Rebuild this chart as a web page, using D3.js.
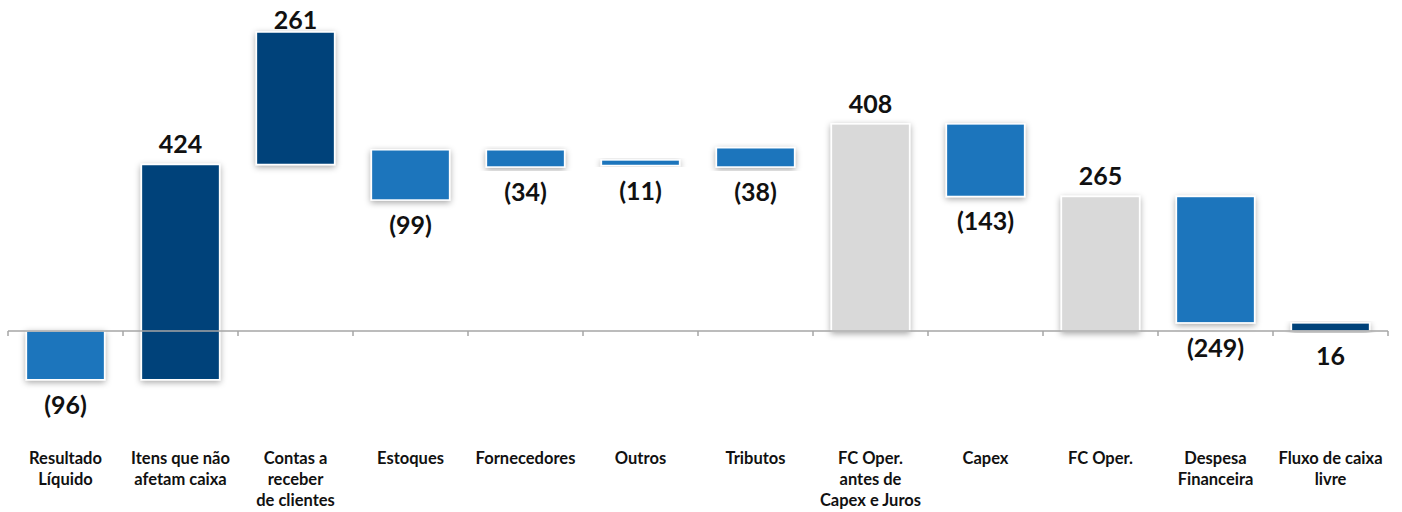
<!DOCTYPE html>
<html lang="pt">
<head>
<meta charset="utf-8">
<title>Fluxo de caixa livre</title>
<script src="https://d3js.org/d3.v7.min.js"></script>
<style>
    body { margin: 0; background: #fff; }
    svg { display: block; font-family: Lato, "Open Sans", sans-serif; }
    .axis path, .axis line { stroke: #a6a6a6; stroke-width: 1.5; }
    .value-label { font-size: 25px; font-weight: bold; fill: #111; }
    .cat-label { font-size: 16.5px; font-weight: bold; fill: #111; }
</style>
</head>
<body>
<div id="chart"></div>
<script>
    // categories (lines of each label)
    const categories = [
        ["Resultado", "Líquido"],
        ["Itens que não", "afetam caixa"],
        ["Contas a", "receber", "de clientes"],
        ["Estoques"],
        ["Fornecedores"],
        ["Outros"],
        ["Tributos"],
        ["FC Oper.", "antes de", "Capex e Juros"],
        ["Capex"],
        ["FC Oper."],
        ["Despesa", "Financeira"],
        ["Fluxo de caixa", "livre"]
    ];
    // value shown on each bar
    const values = [-96, 424, 261, -99, -34, -11, -38, 408, -143, 265, -249, 16];
    // where each bar starts
    const starts = [0, -96, 328, 357, 357, 337, 361, 0, 408, 0, 265, 0];
    // kind of bar: "neg" = variation down, "pos" = variation up, "total"
    const kinds = ["neg", "pos", "pos", "neg", "neg", "neg", "neg", "total", "neg", "total", "neg", "pos"];

    const colors = {neg: "#1b75bc", pos: "#00427a", total: "#d9d9d9"};

    const W = 1402, H = 512;
    const x0 = 8, x1 = 1388;

    const x = d3.scaleBand()
        .domain(d3.range(values.length))
        .range([x0, x1])
        .paddingInner(0.32)
        .paddingOuter(0.16);

    const y = d3.scaleLinear()
        .domain([0, 589])
        .range([331, 32]);

    const svg = d3.select("#chart").append("svg")
        .attr("width", W)
        .attr("height", H);

    const defs = svg.append("defs");
    const f = defs.append("filter").attr("id", "shadow")
        .attr("x", "-20%").attr("y", "-20%").attr("width", "140%").attr("height", "140%");
    f.append("feDropShadow")
        .attr("dx", 0).attr("dy", 2)
        .attr("stdDeviation", 3)
        .attr("flood-color", "#000")
        .attr("flood-opacity", 0.35);

    const data = values.map((v, i) => ({
        i: i, v: v, start: starts[i], end: starts[i] + v, kind: kinds[i]
    }));

    svg.append("g").selectAll("rect")
        .data(data)
        .enter().append("rect")
        .attr("x", d => x(d.i))
        .attr("width", x.bandwidth())
        .attr("y", d => y(Math.max(d.start, d.end)))
        .attr("height", d => Math.abs(y(d.start) - y(d.end)))
        .attr("fill", d => colors[d.kind])
        .attr("stroke", "#fff")
        .attr("stroke-width", 1.5)
        .attr("filter", "url(#shadow)");

    // zero axis with ticks between categories
    const tickPos = d3.range(values.length + 1).map(k => x0 + k * (x1 - x0) / values.length);
    const axis = svg.append("g").attr("class", "axis");
    axis.append("line")
        .attr("x1", x0).attr("x2", x1)
        .attr("y1", y(0)).attr("y2", y(0));
    axis.selectAll(".tick")
        .data(tickPos)
        .enter().append("line")
        .attr("x1", d => d).attr("x2", d => d)
        .attr("y1", y(0)).attr("y2", y(0) + 5);

    const fmt = v => v < 0 ? "(" + Math.abs(v) + ")" : String(v);
    const last = values.length - 1;

    svg.append("g").selectAll("text")
        .data(data)
        .enter().append("text")
        .attr("class", "value-label")
        .attr("text-anchor", "middle")
        .attr("x", d => x(d.i) + x.bandwidth() / 2)
        .attr("y", d => {
            const top = y(Math.max(d.start, d.end));
            const bottom = y(Math.min(d.start, d.end));
            if (d.v < 0 || d.i === last) return bottom + 34;
            return Math.max(top - 11, 29);
        })
        .text(d => fmt(d.v));

    const cats = svg.append("g").selectAll("text")
        .data(categories)
        .enter().append("text")
        .attr("class", "cat-label")
        .attr("text-anchor", "middle")
        .attr("x", (d, i) => x(i) + x.bandwidth() / 2)
        .attr("y", 464);
    cats.selectAll("tspan")
        .data(d => d)
        .enter().append("tspan")
        .attr("x", function() { return d3.select(this.parentNode).attr("x"); })
        .attr("dy", (d, k) => k === 0 ? 0 : 21)
        .text(d => d);
</script>
</body>
</html>
